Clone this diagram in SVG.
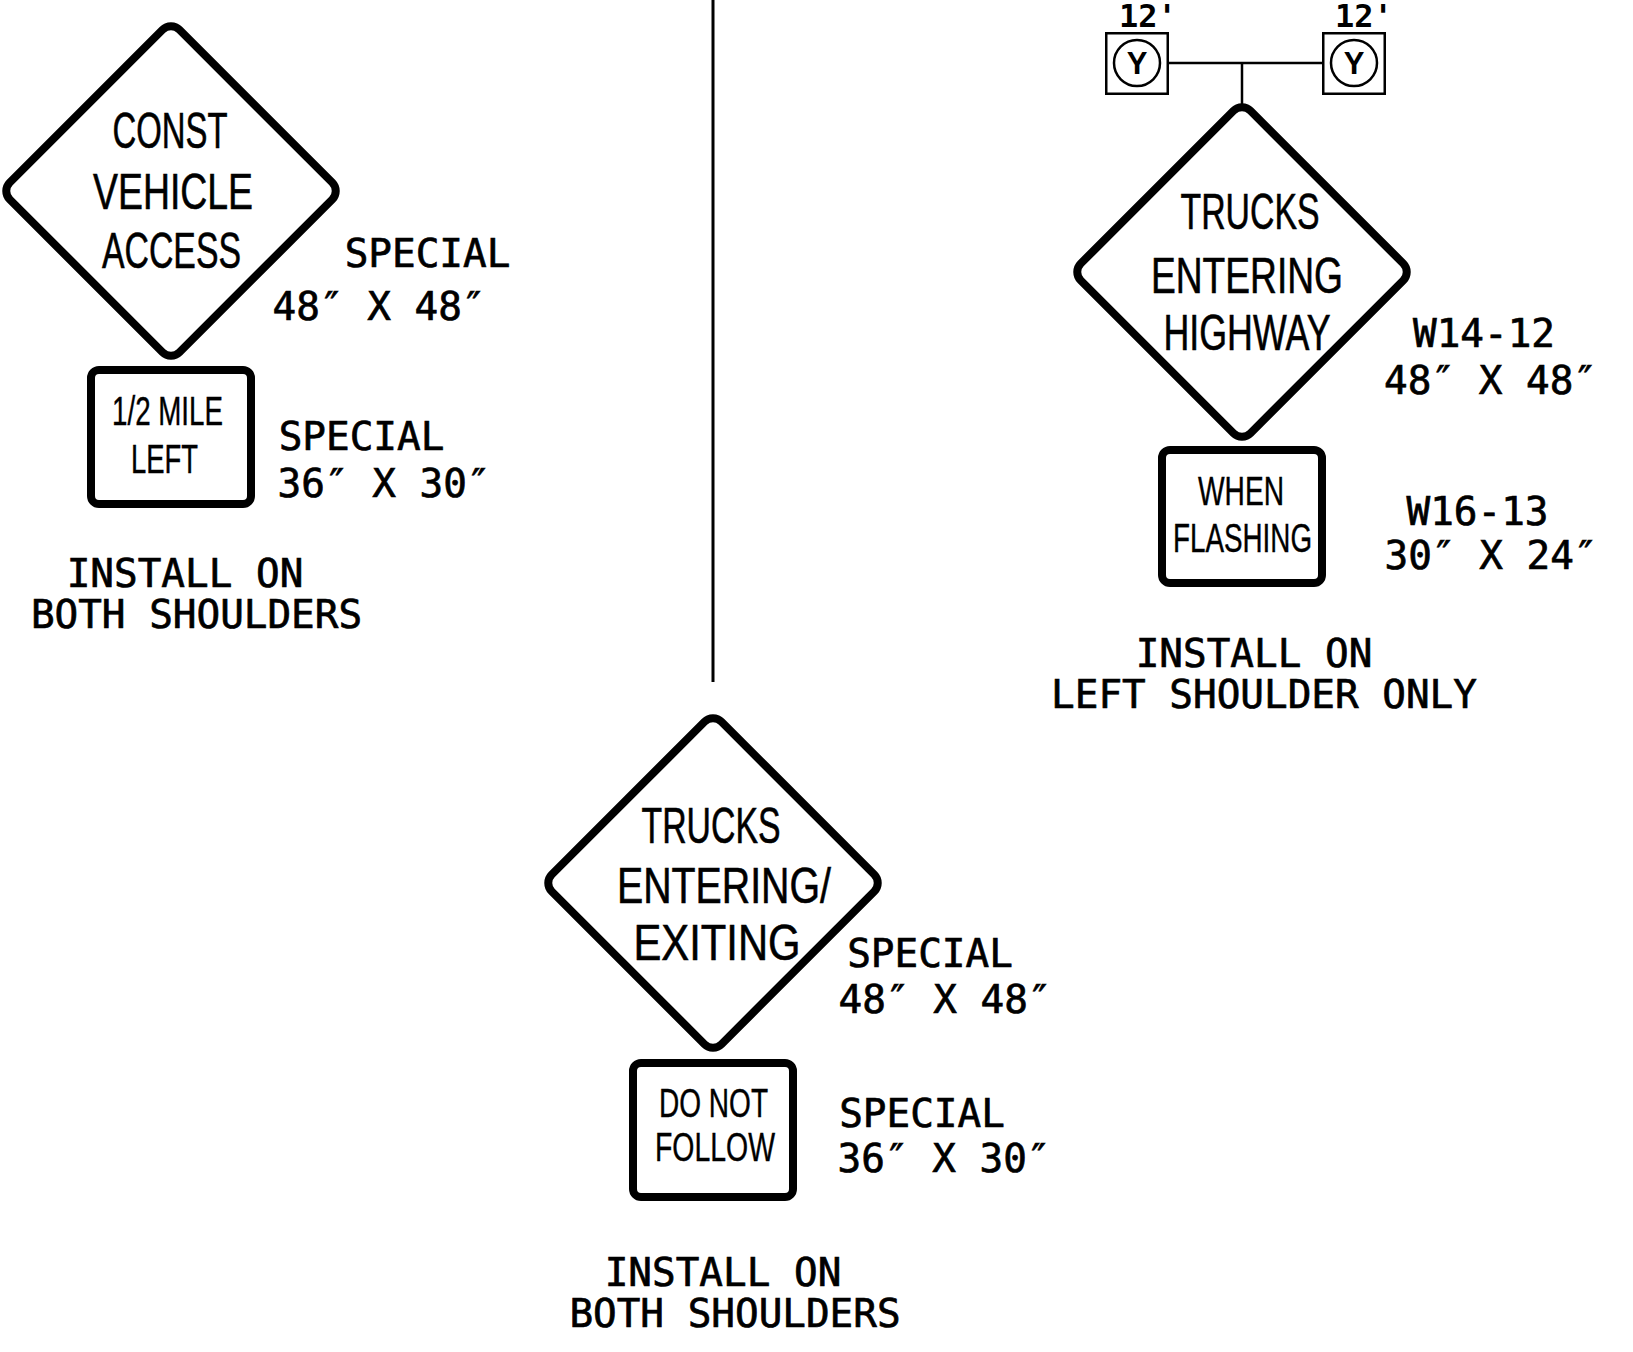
<svg xmlns="http://www.w3.org/2000/svg" width="1633" height="1352" viewBox="0 0 1633 1352">
<style>
.sign{fill:#fff;stroke:#000;stroke-width:8}
.ln{fill:none;stroke:#000;stroke-width:2.5}
.post{fill:none;stroke:#000;stroke-width:3}
.lbl{font-family:"DejaVu Sans Mono","Liberation Mono",monospace;font-size:39.3px;text-anchor:middle;fill:#000;stroke:#000;stroke-width:0.7}
.dt{font-family:"Liberation Sans",Arial,sans-serif;font-size:50px;text-anchor:middle;fill:#000;stroke:#000;stroke-width:0.6}
.rt{font-family:"Liberation Sans",Arial,sans-serif;font-size:40px;text-anchor:middle;fill:#000;stroke:#000;stroke-width:0.4}
.yt{font-family:"Liberation Sans",Arial,sans-serif;font-weight:bold;font-size:31px;text-anchor:middle;fill:#000}
.ht{font-family:"DejaVu Sans Mono","Liberation Mono",monospace;font-weight:bold;font-size:32px;fill:#000}
</style>
<defs>
<rect id="dia" x="-120" y="-120" width="240" height="240" rx="12" transform="rotate(45)"/>
</defs>
<rect width="1633" height="1352" fill="#fff"/>

<g id="connectors">
<line class="post" x1="713" y1="0" x2="713" y2="682"/>
<line class="ln" x1="1167" y1="63" x2="1322" y2="63"/>
<line class="ln" x1="1242" y1="63" x2="1242" y2="106"/>
</g>

<g id="sign-const-vehicle">
<use href="#dia" class="sign" transform="translate(171,191)"/>
<text class="dt" x="170" y="148" textLength="115" lengthAdjust="spacingAndGlyphs">CONST</text>
<text class="dt" x="173" y="209" textLength="160" lengthAdjust="spacingAndGlyphs">VEHICLE</text>
<text class="dt" x="171.5" y="268" textLength="139" lengthAdjust="spacingAndGlyphs">ACCESS</text>
<text class="lbl" x="427.5" y="267">SPECIAL</text>
<text class="lbl" x="379" y="320">48″ X 48″</text>
</g>

<g id="plate-half-mile">
<rect class="sign" x="91" y="370" width="160" height="134" rx="8"/>
<text class="rt" x="167.5" y="425" textLength="111" lengthAdjust="spacingAndGlyphs">1/2 MILE</text>
<text class="rt" x="164.5" y="473" textLength="67" lengthAdjust="spacingAndGlyphs">LEFT</text>
<text class="lbl" x="361.5" y="450">SPECIAL</text>
<text class="lbl" x="384" y="497">36″ X 30″</text>
</g>

<g id="note-left">
<text class="lbl" x="185" y="587">INSTALL ON</text>
<text class="lbl" x="196.5" y="628">BOTH SHOULDERS</text>
</g>

<g id="signal-heads">
<rect class="ln" x="1106.25" y="33.25" width="61.5" height="60.5"/>
<circle class="ln" cx="1137" cy="63" r="23"/>
<text class="yt" x="1137" y="74">Y</text>
<rect class="ln" x="1323.25" y="33.25" width="61.5" height="60.5"/>
<circle class="ln" cx="1354" cy="63" r="23"/>
<text class="yt" x="1354" y="74">Y</text>
<text class="ht" x="1119" y="27">12'</text>
<text class="ht" x="1335" y="27">12'</text>
</g>

<g id="sign-trucks-entering-highway">
<use href="#dia" class="sign" transform="translate(1242,272)"/>
<text class="dt" x="1250" y="229" textLength="139" lengthAdjust="spacingAndGlyphs">TRUCKS</text>
<text class="dt" x="1247" y="293" textLength="192" lengthAdjust="spacingAndGlyphs">ENTERING</text>
<text class="dt" x="1247" y="350" textLength="167" lengthAdjust="spacingAndGlyphs">HIGHWAY</text>
<text class="lbl" x="1484" y="347">W14-12</text>
<text class="lbl" x="1490.5" y="394">48″ X 48″</text>
</g>

<g id="plate-when-flashing">
<rect class="sign" x="1162" y="450" width="160" height="133" rx="8"/>
<text class="rt" x="1241" y="505" textLength="86" lengthAdjust="spacingAndGlyphs">WHEN</text>
<text class="rt" x="1242.5" y="552" textLength="139" lengthAdjust="spacingAndGlyphs">FLASHING</text>
<text class="lbl" x="1477.5" y="525">W16-13</text>
<text class="lbl" x="1491" y="569">30″ X 24″</text>
</g>

<g id="note-right">
<text class="lbl" x="1254" y="667">INSTALL ON</text>
<text class="lbl" x="1264" y="708">LEFT SHOULDER ONLY</text>
</g>

<g id="sign-trucks-entering-exiting">
<use href="#dia" class="sign" transform="translate(713,883)"/>
<text class="dt" x="711" y="843" textLength="139" lengthAdjust="spacingAndGlyphs">TRUCKS</text>
<text class="dt" x="724" y="903" textLength="214" lengthAdjust="spacingAndGlyphs">ENTERING/</text>
<text class="dt" x="717" y="960" textLength="167" lengthAdjust="spacingAndGlyphs">EXITING</text>
<text class="lbl" x="930" y="967">SPECIAL</text>
<text class="lbl" x="945" y="1013">48″ X 48″</text>
</g>

<g id="plate-do-not-follow">
<rect class="sign" x="633" y="1063" width="160" height="134" rx="8"/>
<text class="rt" x="713.5" y="1117" textLength="109" lengthAdjust="spacingAndGlyphs">DO NOT</text>
<text class="rt" x="715" y="1161" textLength="120" lengthAdjust="spacingAndGlyphs">FOLLOW</text>
<text class="lbl" x="922" y="1127">SPECIAL</text>
<text class="lbl" x="944" y="1172">36″ X 30″</text>
</g>

<g id="note-center">
<text class="lbl" x="723" y="1286">INSTALL ON</text>
<text class="lbl" x="735" y="1327">BOTH SHOULDERS</text>
</g>
</svg>
